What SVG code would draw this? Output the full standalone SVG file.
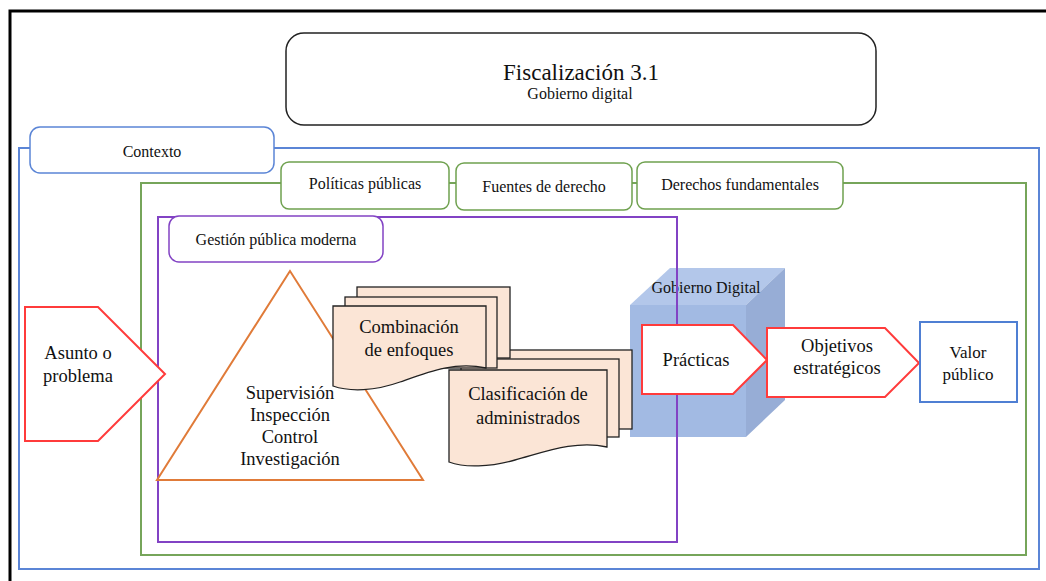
<svg xmlns="http://www.w3.org/2000/svg" width="1046" height="581" viewBox="0 0 1046 581">
<style>
svg text{font-family:"Liberation Serif",serif !important;text-anchor:middle;fill:#111}
.t16{font-size:16px}
.t18{font-size:18.5px}
.blue{fill:none;stroke:#5B85D6;stroke-width:2}
.green{fill:none;stroke:#76A55A;stroke-width:2}
.purple{fill:none;stroke:#8243C4;stroke-width:2}
.tabB{fill:#fff;stroke:#5B85D6;stroke-width:1.5}
.tabG{fill:#fff;stroke:#6FA14F;stroke-width:1.5}
.tabP{fill:#fff;stroke:#8243C4;stroke-width:1.5}
.red{fill:#fff;stroke:#FF3B3B;stroke-width:2;stroke-linejoin:miter}
.doc{fill:#FBE5D6;stroke:#222;stroke-width:1.3}
</style>
<rect width="1046" height="581" fill="#fff"/>
<path d="M10,581 V11 H1046" fill="none" stroke="#000" stroke-width="3"/>
<g id="title">
<rect x="286" y="33" width="590" height="92" rx="18" fill="#fff" stroke="#222" stroke-width="1.5"/>
<text x="581" y="80" font-size="23">Fiscalización 3.1</text>
<text x="580" y="99" class="t16">Gobierno digital</text>
</g>

<g id="contexto-frame"><rect class="blue" x="19" y="148" width="1020" height="421"/></g>
<g id="green-frame"><rect class="green" x="141" y="183" width="885" height="372"/></g>

<g id="cube">
<polygon points="630,305 670,268 785,268 746,305" fill="#B3C7EA"/>
<polygon points="746,305 785,268 785,400 746,437" fill="#97ADD6"/>
<rect x="630" y="305" width="116" height="132" fill="#A2BAE3"/>
<text x="706" y="293" class="t16">Gobierno Digital</text>
</g>

<g id="purple-frame"><rect class="purple" x="158" y="217" width="519" height="325"/></g>

<g id="contexto"><rect class="tabB" x="30" y="127" width="244" height="46" rx="10"/><text x="152" y="157" class="t16">Contexto</text></g>
<g id="politicas"><rect class="tabG" x="281" y="162" width="168" height="47" rx="8"/><text x="365" y="189" class="t16">Políticas públicas</text></g>
<g id="fuentes"><rect class="tabG" x="456" y="163" width="176" height="47" rx="8"/><text x="544" y="192" class="t16">Fuentes de derecho</text></g>
<g id="derechos"><rect class="tabG" x="637" y="162" width="206" height="47" rx="8"/><text x="740" y="190" class="t16">Derechos fundamentales</text></g>
<g id="gestion"><rect class="tabP" x="169" y="216" width="214" height="46" rx="10"/><text x="276" y="245" class="t16">Gestión pública moderna</text></g>

<g id="triangle">
<polygon points="290,271 157,480 423,480" fill="none" stroke="#E07B39" stroke-width="2"/>
<text class="t18" x="290" y="399">Supervisión</text>
<text class="t18" x="290" y="421">Inspección</text>
<text class="t18" x="290" y="443">Control</text>
<text class="t18" x="290" y="465">Investigación</text>
</g>

<g id="clasificacion">
<rect class="doc" x="473" y="350" width="159" height="79"/>
<rect class="doc" x="461" y="359" width="158" height="78"/>
<path class="doc" d="M449,370 H607 V447 C575,440 545,452 515,460 C490,467 465,468 449,462 Z"/>
<text class="t18" x="528" y="400">Clasificación de</text>
<text class="t18" x="528" y="424">administrados</text>
</g>

<g id="combinacion">
<rect class="doc" x="357" y="287" width="153" height="71"/>
<rect class="doc" x="345" y="297" width="152" height="71"/>
<path class="doc" d="M333,306 H486 V368 C455,361 428,372 400,382 C375,391 350,392 333,386 Z"/>
<text class="t18" x="409" y="333">Combinación</text>
<text class="t18" x="409" y="356">de enfoques</text>
</g>

<g id="asunto">
<polygon class="red" points="25,307 98,307 165,374 98,441 25,441"/>
<text class="t18" x="78" y="359">Asunto o</text>
<text class="t18" x="78" y="382">problema</text>
</g>

<g id="practicas">
<polygon class="red" points="642,325 733,325 767,360 733,394 642,394"/>
<text class="t18" x="696" y="366">Prácticas</text>
</g>

<g id="objetivos">
<polygon class="red" points="767,328 885,328 919,363 885,397 767,397"/>
<text class="t18" x="837" y="352">Objetivos</text>
<text class="t18" x="837" y="374">estratégicos</text>
</g>

<g id="valor">
<rect x="920" y="322" width="97" height="80" fill="#fff" stroke="#4F7FD3" stroke-width="2"/>
<text x="968" y="358" font-size="17">Valor</text>
<text x="968" y="380" font-size="17">público</text>
</g>

<g id="connectors"></g>
</svg>
